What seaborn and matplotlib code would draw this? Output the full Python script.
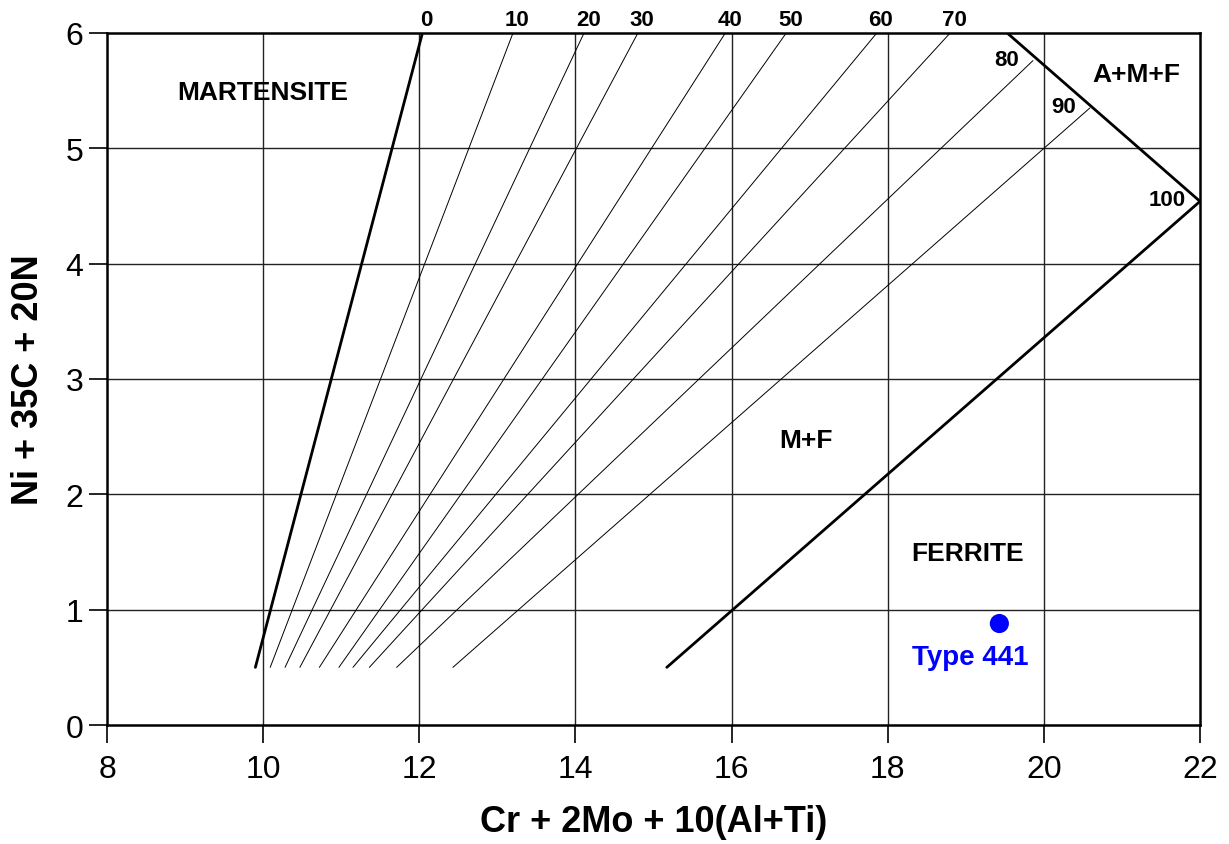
import matplotlib
matplotlib.use("Agg")
import matplotlib.pyplot as plt
import seaborn as sns
import pandas as pd

sns.set_theme(style="ticks")
plt.rcParams["font.family"] = ["Liberation Sans", "DejaVu Sans"]
plt.rcParams["text.color"] = "black"
plt.rcParams["axes.labelcolor"] = "black"
plt.rcParams["xtick.color"] = "black"
plt.rcParams["ytick.color"] = "black"

# Iso-martensite lines (percent martensite), bottom and top end points
pct_labels = ["0", "10", "20", "30", "40", "50", "60", "70", "80", "90", "100"]
x_bottom = [9.90, 10.09, 10.28, 10.47, 10.72, 10.97, 11.15, 11.36, 11.71, 12.43, 15.17]
y_bottom = [0.5] * 11
x_top = [12.04, 13.20, 14.11, 14.80, 15.92, 16.70, 17.86, 18.80, 19.86, 20.59, 22.0]
y_top = [6.0, 6.0, 6.0, 6.0, 6.0, 6.0, 6.0, 6.0, 5.76, 5.35, 4.54]

# A+M+F boundary
boundary_x = [19.53, 22.0]
boundary_y = [6.0, 4.54]

# Alloy point
alloy_name = "Type 441"
alloy_x = [19.43]
alloy_y = [0.88]

# Region names
region_names = ["MARTENSITE", "A+M+F", "M+F", "FERRITE"]
region_x = [9.99, 21.19, 16.95, 19.02]
region_y = [5.49, 5.64, 2.47, 1.49]

rows = []
for lab, xb, yb, xt, yt in zip(pct_labels, x_bottom, y_bottom, x_top, y_top):
    rows.append({"line": lab, "x": xb, "y": yb})
    rows.append({"line": lab, "x": xt, "y": yt})
lines_df = pd.DataFrame(rows)

fig = plt.figure(figsize=(12.29, 8.45), dpi=100)
ax = fig.add_axes([0.0871, 0.1408, 0.8893, 0.8190])

# Grid lines
for gx in [10, 12, 14, 16, 18, 20]:
    ax.axvline(gx, color="#222222", lw=1.0, zorder=1)
for gy in [1, 2, 3, 4, 5]:
    ax.axhline(gy, color="#222222", lw=1.0, zorder=1)

for lab in pct_labels:
    sub = lines_df[lines_df["line"] == lab]
    thick = lab in ("0", "100")
    sns.lineplot(data=sub, x="x", y="y", sort=False, estimator=None, ax=ax,
                 color="black", lw=2.0 if thick else 0.7, zorder=3, legend=False)

sns.lineplot(x=boundary_x, y=boundary_y, sort=False, estimator=None, ax=ax,
             color="black", lw=2.0, zorder=3, legend=False)

sns.scatterplot(x=alloy_x, y=alloy_y, ax=ax, color="#0000FF", s=190,
                edgecolor="none", zorder=5, legend=False)
ax.annotate(alloy_name, (alloy_x[0], alloy_y[0]), xytext=(-21, -24),
            textcoords="offset points", ha="center", va="center",
            color="#0000FF", fontsize=20, fontweight="bold", zorder=6)

# Percentage labels
for lab, xt, yt in zip(pct_labels, x_top, y_top):
    if yt >= 6.0:
        ax.annotate(lab, (xt, yt), xytext=(3, 10), textcoords="offset points",
                    ha="center", va="center", fontsize=16, fontweight="bold",
                    annotation_clip=False)
    else:
        ax.annotate(lab, (xt, yt), xytext=(-10, 1), textcoords="offset points",
                    ha="right", va="center", fontsize=16, fontweight="bold",
                    annotation_clip=False)

for name, rx, ry in zip(region_names, region_x, region_y):
    ax.text(rx, ry, name, ha="center", va="center", fontsize=19,
            fontweight="bold")

ax.set_xlim(8, 22)
ax.set_ylim(0, 6)
ax.set_xticks([8, 10, 12, 14, 16, 18, 20, 22])
ax.set_yticks([0, 1, 2, 3, 4, 5, 6])
ax.tick_params(axis="both", which="major", direction="out", length=13,
               width=1.2, labelsize=23, top=False, right=False)
ax.tick_params(axis="x", pad=8)
ax.tick_params(axis="y", pad=4)
for sp in ax.spines.values():
    sp.set_color("black")
    sp.set_linewidth(1.8)
    sp.set_visible(True)

ax.set_xlabel("Cr + 2Mo + 10(Al+Ti)", fontsize=26, fontweight="bold", labelpad=14)
ax.set_ylabel("Ni + 35C + 20N", fontsize=26, fontweight="bold", labelpad=14)

fig.savefig("out.png", dpi=100, facecolor="white")
